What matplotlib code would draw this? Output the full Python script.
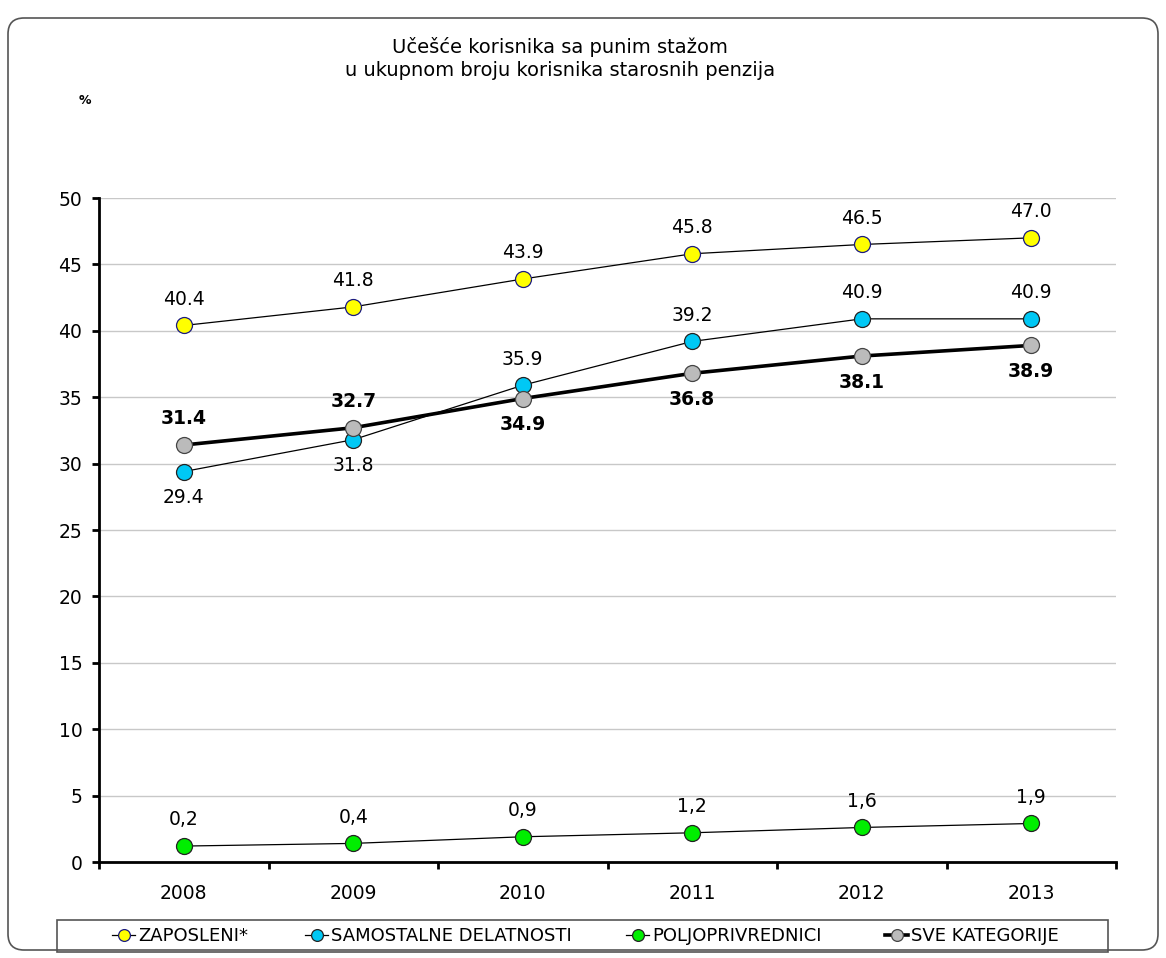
import matplotlib
matplotlib.use("Agg")
import matplotlib.pyplot as plt
from matplotlib.patches import FancyBboxPatch, Rectangle
from matplotlib.transforms import IdentityTransform
from matplotlib.lines import Line2D

years = ["2008", "2009", "2010", "2011", "2012", "2013"]
zaposleni = [40.4, 41.8, 43.9, 45.8, 46.5, 47.0]
samostalne = [29.4, 31.8, 35.9, 39.2, 40.9, 40.9]
poljo = [1.2, 1.4, 1.9, 2.2, 2.6, 2.9]
poljo_labels = ["0,2", "0,4", "0,9", "1,2", "1,6", "1,9"]
sve = [31.4, 32.7, 34.9, 36.8, 38.1, 38.9]
yticks = [0, 5, 10, 15, 20, 25, 30, 35, 40, 45, 50]
series_names = ["ZAPOSLENI*", "SAMOSTALNE DELATNOSTI", "POLJOPRIVREDNICI", "SVE KATEGORIJE"]

plt.rcParams['font.family'] = ['DejaVu Sans']

W, H = 1166, 958
fig = plt.figure(figsize=(W/100, H/100), dpi=100)
ax = fig.add_axes([99/W, 1-862/H, (1116-99)/W, (862-198)/H])

x = list(range(len(years)))
ms = 11.5

styles = [
    dict(color='black', lw=0.9, marker='o', mfc='#FFFF00', mec='#1a1a80', mew=0.9),
    dict(color='black', lw=0.9, marker='o', mfc='#00C8F5', mec='#222222', mew=0.9),
    dict(color='black', lw=0.9, marker='o', mfc='#00EE00', mec='#222222', mew=0.9),
    dict(color='black', lw=2.6, marker='o', mfc='#BBBBBB', mec='#444444', mew=0.9),
]

for data, st, z in zip([zaposleni, samostalne, poljo, sve], styles, [3, 3, 3, 4]):
    ax.plot(x, data, ms=ms, zorder=z, **st)

fs = 13.5
for i, v in enumerate(zaposleni):
    ax.annotate(f"{v:.1f}", (i, v), xytext=(0, 12), textcoords='offset points',
                ha='center', va='bottom', fontsize=fs)
for i, v in enumerate(samostalne):
    off = -12 if i < 2 else 12
    ax.annotate(f"{v:.1f}", (i, v), xytext=(0, off), textcoords='offset points',
                ha='center', va='top' if off < 0 else 'bottom', fontsize=fs)
for i, v in enumerate(poljo):
    ax.annotate(poljo_labels[i], (i, v), xytext=(0, 12), textcoords='offset points',
                ha='center', va='bottom', fontsize=fs)
for i, v in enumerate(sve):
    off = 12 if i < 2 else -12
    ax.annotate(f"{v:.1f}", (i, v), xytext=(0, off), textcoords='offset points',
                ha='center', va='top' if off < 0 else 'bottom', fontsize=fs,
                fontweight='bold')

ax.set_xlim(-0.5, len(years) - 0.5)
ax.set_ylim(0, 50)
ax.set_yticks(yticks)
ax.set_yticklabels([str(t) for t in yticks], fontsize=13.5)
ax.set_xticks(x)
ax.set_xticklabels(years, fontsize=13.5)
ax.tick_params(axis='x', length=0, pad=16)
ax.set_xticks([i - 0.5 for i in range(len(years) + 1)], minor=True)
ax.tick_params(axis='x', which='minor', length=5, width=2, direction='out')
ax.tick_params(axis='y', length=5, width=2, direction='out', pad=7)
ax.grid(axis='y', color='#C8C8C8', lw=1)
ax.set_axisbelow(True)
for s in ['top', 'right']:
    ax.spines[s].set_visible(False)
ax.spines['left'].set_linewidth(2)
ax.spines['bottom'].set_linewidth(2)

fig.text(560/W, 1-47/H, "Učešće korisnika sa punim stažom",
         ha='center', va='center', fontsize=14)
fig.text(560/W, 1-70/H, "u ukupnom broju korisnika starosnih penzija",
         ha='center', va='center', fontsize=14)
fig.text(85/W, 1-101/H, "%", ha='center', va='center', fontsize=9,
         fontweight='bold')

# legend frame
fig.patches.append(Rectangle((57, H-952), 1108-57, 952-920, transform=IdentityTransform(),
                             fill=False, edgecolor='#555555', lw=1.2))
leg_x = [112, 305, 626, 885]
lfs = 13
for name, st, lx in zip(series_names, styles, leg_x):
    h = Line2D([], [], ms=8.5, **st)
    lg = fig.legend([h], [name], loc='center left', bbox_to_anchor=(lx/W, 1-936/H),
                    fontsize=lfs, frameon=False, handlelength=1.3, handletextpad=0.15,
                    borderaxespad=0, borderpad=0)

border = FancyBboxPatch((8, 8), 1150, 932,
                        boxstyle="round,pad=0,rounding_size=16",
                        transform=IdentityTransform(), fill=False,
                        edgecolor='#555555', lw=1.2)
fig.patches.append(border)

fig.savefig("out.png", dpi=100)
